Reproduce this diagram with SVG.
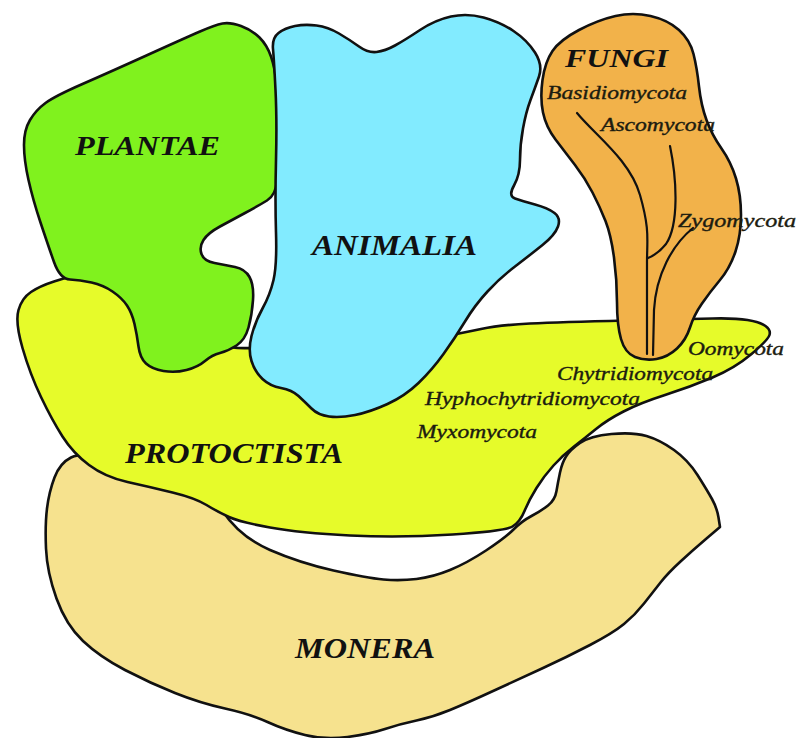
<svg xmlns="http://www.w3.org/2000/svg" width="798" height="738" viewBox="0 0 798 738">
<style>
.shape{stroke:#111;stroke-width:2.6;stroke-linejoin:round;stroke-linecap:round}
.branch{fill:none;stroke:#111;stroke-width:2.2;stroke-linecap:round}
.king{font-family:"Liberation Serif","Times New Roman",serif;font-style:italic;font-weight:bold;fill:#111}
.phy{font-family:"Liberation Serif","Times New Roman",serif;font-style:italic;font-size:18px;fill:#1c1c10;stroke:#1c1c10;stroke-width:0.35}
</style>
<rect width="798" height="738" fill="#fff"/>
<g id="monera">
<path class="shape" fill="#f6e28e" d="M 106,457 Q 82,452 71,457.5 Q 60,463 54.5,477.5 Q 49,492 47,508.5 Q 45,525 46,548.5 Q 47,572 56.5,598.5 Q 66,625 83,641 Q 100,657 125,670 Q 150,683 175,693 Q 200,703 225,708.5 Q 250,714 267.5,722 Q 285,730 305,735 Q 325,740 347.5,737 Q 370,734 385,729 Q 400,724 416.5,720.5 Q 433,717 450,710 Q 467,703 492,691.5 Q 517,680 542,668.5 Q 567,657 590,645 Q 613,633 624,624 Q 635,615 644,603.5 Q 653,592 660.5,582.5 Q 668,573 680.5,561.5 Q 693,550 706.5,538.5 L 720,527 L 718.5,517.5 Q 717,508 712,499 Q 707,490 697.5,475 Q 688,460 674,450 Q 660,440 646.5,436 Q 633,432 611.5,434 Q 590,436 580,443 Q 570,450 566,456.5 Q 562,463 560,472.5 Q 558,482 556.5,491 Q 555,500 548,505.5 Q 541,511 531.5,516 Q 522,521 513.5,529.5 Q 505,538 486,550.5 Q 467,563 450,570 Q 433,577 416.5,579 Q 400,581 383.5,579.5 Q 367,578 333.5,570.5 Q 300,563 270,550 Q 240,537 222.5,511 Q 205,485 167.5,473.5 Q 130,462 106,457 Z"/>
<text class="king" x="295" y="658" font-size="29" textLength="140" lengthAdjust="spacingAndGlyphs">MONERA</text>
</g>
<g id="protoctista">
<path class="shape" fill="#e6fb2a" d="M 22.5,348 Q 15,322 18.5,310 Q 22,298 31,292 Q 40,286 54,281.5 Q 68,277 84,272.5 Q 100,268 122.5,279 Q 145,290 155,310 Q 165,330 182.5,336 Q 200,342 212,344 Q 224,346 233,347.5 Q 242,349 271,347 Q 300,345 350,345 Q 400,345 431,339 Q 462,333 481,329 Q 500,325 530,323.5 Q 560,322 625,320.5 Q 690,319 712.5,318.5 Q 735,318 747.5,320 Q 760,322 765.5,326 Q 771,330 769.5,335 Q 768,340 751.5,354 Q 735,368 712.5,377.5 Q 690,387 665,395 Q 640,403 623.5,411.5 Q 607,420 596,429 Q 585,438 574,446.5 Q 563,455 553.5,465.5 Q 544,476 536.5,488 Q 529,500 524.5,511 Q 520,522 512.5,526.5 Q 505,531 452.5,534.5 Q 400,538 350,535.5 Q 300,533 270,527.5 Q 240,522 229,517 Q 218,512 206.5,505 Q 195,498 172.5,492.5 Q 150,487 127.5,482 Q 105,477 89,465 Q 73,453 62.5,436.5 Q 52,420 41,397 Q 30,374 22.5,348 Z"/>
<text class="king" x="125" y="463" font-size="29" textLength="218" lengthAdjust="spacingAndGlyphs">PROTOCTISTA</text>
<text class="phy" x="688" y="355" textLength="96" lengthAdjust="spacingAndGlyphs">Oomycota</text>
<text class="phy" x="557" y="380" textLength="156" lengthAdjust="spacingAndGlyphs">Chytridiomycota</text>
<text class="phy" x="425" y="405" textLength="215" lengthAdjust="spacingAndGlyphs">Hyphochytridiomycota</text>
<text class="phy" x="417" y="438" textLength="120" lengthAdjust="spacingAndGlyphs">Myxomycota</text>
</g>
<g id="plantae">
<path class="shape" fill="#80f21e" d="M 222.5,23.5 Q 230,22 241,26 Q 252,30 259.5,37.5 Q 267,45 271,56.5 Q 275,68 276.5,84 Q 278,100 278,132.5 Q 278,165 277,180 Q 276,195 267,200.5 Q 258,206 245,213 Q 232,220 220,226.5 Q 208,233 203.5,240 Q 199,247 201.5,254 Q 204,261 214.5,263 Q 225,265 235,267 Q 245,269 249.5,277 Q 254,285 253,300 Q 252,315 248.5,327.5 Q 245,340 236.5,345.5 Q 228,351 220,353 Q 212,355 205,361 Q 198,367 186.5,370 Q 175,373 163.5,371 Q 152,369 146,363.5 Q 140,358 138.5,346.5 Q 137,335 134.5,324 Q 132,313 127,305.5 Q 122,298 112.5,291.5 Q 103,285 91.5,282.5 Q 80,280 70,279.5 Q 60,279 54,262 Q 48,245 40.5,222.5 Q 33,200 28.5,180 Q 24,160 24,145 Q 24,130 30,120 Q 36,110 45.5,103 Q 55,96 82.5,84 Q 110,72 147.5,55 Q 185,38 200,31.5 Q 215,25 222.5,23.5 Z"/>
<text class="king" x="75" y="155" font-size="28" textLength="145" lengthAdjust="spacingAndGlyphs">PLANTAE</text>
</g>
<g id="animalia">
<path class="shape" fill="#82ebff" d="M 273,49 Q 272,38 278.5,33 Q 285,28 295,26 Q 305,24 316.5,25.5 Q 328,27 339,33.5 Q 350,40 359,46.5 Q 368,53 376.5,52 Q 385,51 395,45.5 Q 405,40 420,30 Q 435,20 451,16.5 Q 467,13 483.5,17.5 Q 500,22 513.5,31 Q 527,40 535,52.5 Q 543,65 539,76.5 Q 535,88 530.5,100 Q 526,112 523,128.5 Q 520,145 520,160 Q 520,175 514,185.5 Q 508,196 515,198.5 Q 522,201 535,204.5 Q 548,208 554.5,213 Q 561,218 558,226.5 Q 555,235 542.5,245 Q 530,255 515,266.5 Q 500,278 487.5,291.5 Q 475,305 465,321.5 Q 455,338 443.5,354 Q 432,370 418.5,383 Q 405,396 387.5,404 Q 370,412 355,415 Q 340,418 329,416.5 Q 318,415 311.5,408.5 Q 305,402 298.5,396 Q 292,390 281,388 Q 270,386 262.5,379 Q 255,372 251.5,361 Q 248,350 251.5,336 Q 255,322 262.5,308.5 Q 270,295 273.5,280 Q 277,265 276,232.5 Q 275,200 276,160 Q 277,120 275.5,90 Q 274,60 273,49 Z"/>
<text class="king" x="312" y="255" font-size="29" textLength="165" lengthAdjust="spacingAndGlyphs">ANIMALIA</text>
</g>
<g id="fungi">
<path class="shape" fill="#f2b24a" d="M 542.5,80 Q 545,62 552.5,51 Q 560,40 579,30 Q 598,20 615.5,16 Q 633,12 650.5,16 Q 668,20 679,30 Q 690,40 693.5,54 Q 697,68 699,86.5 Q 701,105 706.5,120 Q 712,135 721.5,148.5 Q 731,162 736,178.5 Q 741,195 741,215 Q 741,235 735.5,251.5 Q 730,268 720,280 Q 710,292 702,303.5 Q 694,315 690,327.5 Q 686,340 677,348.5 Q 668,357 656.5,359 Q 645,361 635,357 Q 625,353 621,339 Q 617,325 617,302.5 Q 617,280 614,257.5 Q 611,235 605.5,221 Q 600,207 592.5,192.5 Q 585,178 575,165 Q 565,152 555.5,139.5 Q 546,127 543,112.5 Q 540,98 542.5,80 Z"/>
<text class="king" x="565" y="67" font-size="26" textLength="103" lengthAdjust="spacingAndGlyphs">FUNGI</text>
<text class="phy" x="547" y="99" textLength="140" lengthAdjust="spacingAndGlyphs">Basidiomycota</text>
<text class="phy" x="601" y="131" textLength="114" lengthAdjust="spacingAndGlyphs">Ascomycota</text>
<text class="phy" x="678" y="227" font-size="19" textLength="118" lengthAdjust="spacingAndGlyphs">Zygomycota</text>
</g>
<g id="connectors">
<path class="branch" d="M 577,113 C 595,135 630,160 640,195 S 647,240 647,262 L 647,354"/>
<path class="branch" d="M 670,146 C 677,180 679,225 666,244 Q 658,254 648,258"/>
<path class="branch" d="M 693,228 C 672,245 656,275 654,310 L 653,355"/>
</g>
</svg>
